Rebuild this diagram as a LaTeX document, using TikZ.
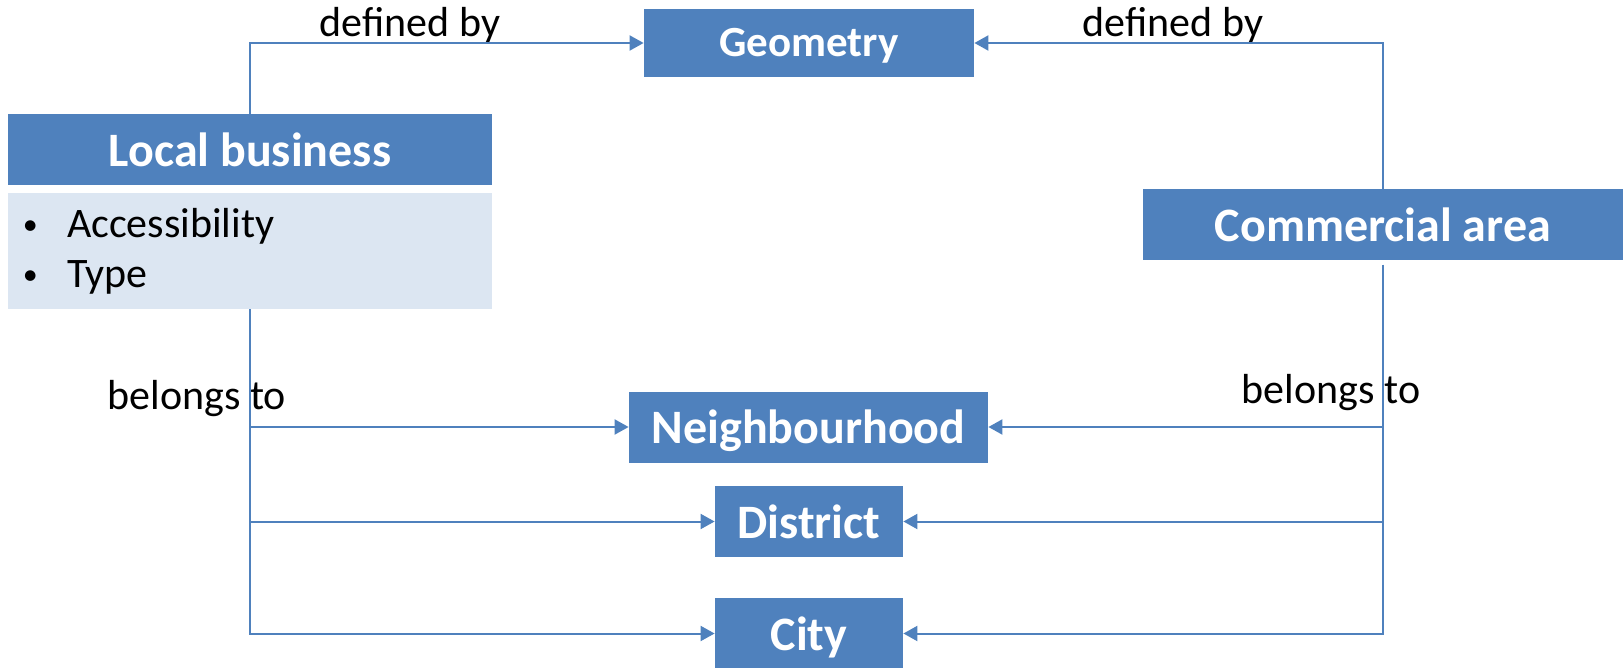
\documentclass[tikz,border=0pt]{standalone}
\usepackage{fontspec}
\setmainfont{Carlito}
\usepackage{xcolor}
\usetikzlibrary{arrows.meta}
\definecolor{boxblue}{HTML}{4F81BD}
\definecolor{attrfill}{HTML}{DCE6F2}
\tikzstyle{entity} = [rectangle, fill=boxblue, text=white, inner sep=0pt, text height=17pt, text depth=0pt,
                      minimum height=35.5pt, font=\fontsize{24}{28}\selectfont\bfseries]
\tikzstyle{attrbox} = [rectangle, fill=attrfill, inner xsep=7.5pt, inner ysep=0pt, text width=227pt,
                       minimum height=58pt, align=left, font=\fontsize{21}{25}\selectfont]
\tikzstyle{reltext} = [anchor=base, inner sep=0pt, font=\fontsize{21}{25}\selectfont]
\tikzstyle{arrow} = [line width=1pt, draw=boxblue, -{Triangle[length=7pt,width=7.5pt]}]
\newcommand{\attritem}{\makebox[22pt][l]{\raisebox{1.5pt}{\fontsize{15}{15}\selectfont •}}}

\begin{document}
\begin{tikzpicture}[x=0.5pt, y=-0.5pt]
\useasboundingbox (0,0) rectangle (1623,668);

\node (geom) [entity, minimum width=165pt, minimum height=34pt, text height=14pt,
              font=\fontsize{21.5}{25}\selectfont\bfseries] at (809,43) {Geometry};
\node (local) [entity, minimum width=242pt] at (250,149.5) {Local business};
\node (attrs) [attrbox] at (250,251) {\attritem Accessibility\\\attritem Type};
\node (comm) [entity, minimum width=240pt] at (1383,225) {Commercial area};
\node (nbh) [entity, minimum width=179.5pt] at (808.5,427) {Neighbourhood};
\node (dist) [entity, minimum width=94pt] at (809,521.5) {District};
\node (city) [entity, minimum width=94pt] at (809,633.5) {City};

\node (defleft) [reltext] at (410,37) {defined by};
\node (defright) [reltext] at (1173,37) {defined by};
\node (belleft) [reltext] at (197,409) {belongs to};
\node (belright) [reltext] at (1331,403) {belongs to};

\draw [arrow] (local.north) |- (geom.west);
\draw [arrow] (comm.north) |- (geom.east);
\draw [arrow] (attrs.south) |- (nbh.west);
\draw [arrow] (attrs.south) |- (dist.west);
\draw [arrow] (attrs.south) |- (city.west);
\draw [arrow] ([yshift=-2pt]comm.south) |- (nbh.east);
\draw [arrow] ([yshift=-2pt]comm.south) |- (dist.east);
\draw [arrow] ([yshift=-2pt]comm.south) |- (city.east);

\end{tikzpicture}
\end{document}
